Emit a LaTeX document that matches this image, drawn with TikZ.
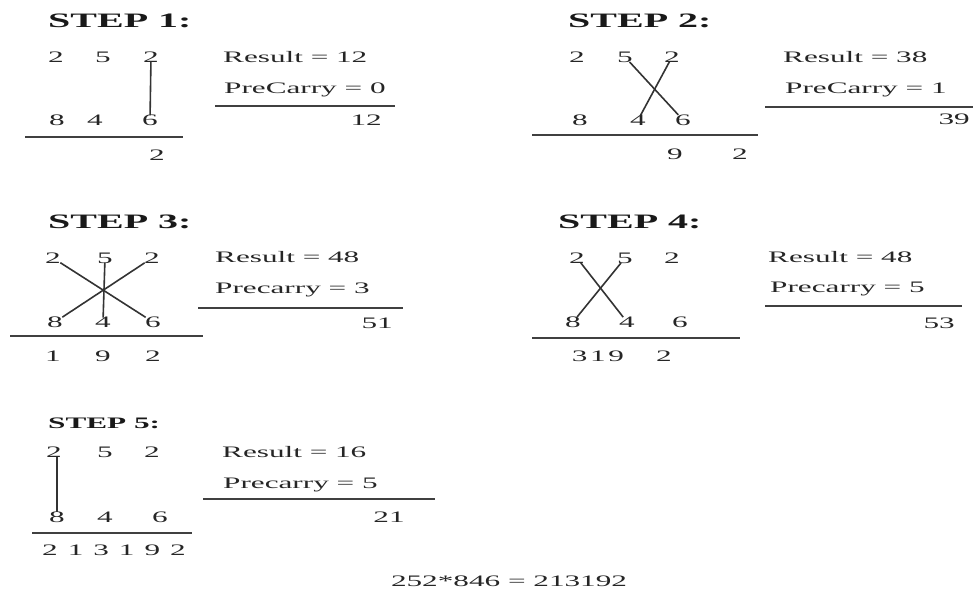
\documentclass[tikz,border=0pt]{standalone}
\usepackage{fontspec}
\setmainfont[FakeStretch=1.95]{Liberation Serif}
\usetikzlibrary{positioning}
\tikzset{
  head/.style={font=\fontsize{20.5}{22}\selectfont\bfseries,inner sep=0pt,anchor=west,text=black!90},
  minihead/.style={head,font=\fontsize{16}{18}\selectfont\bfseries},
  num/.style={font=\fontsize{16}{18}\selectfont,inner sep=1pt,text=black!85},
  calc/.style={font=\fontsize{16}{18}\selectfont,inner sep=0pt,anchor=west,text=black!85},
  link/.style={draw=black!80,line width=1.6pt,shorten <=-2pt,shorten >=-2pt},
  rule/.style={draw=black!75,line width=1.7pt}
}

\begin{document}
\begin{tikzpicture}[x=1pt,y=-1pt]
    \useasboundingbox (0,0) rectangle (973,589);
    % step 1
    \node[head] (h1) at (48,21) {STEP 1:};
    \node[num] (s1t1) at (56,57) {2};
    \node[num] (s1t2) at (103,57) {5};
    \node[num] (s1t3) at (151,57) {2};
    \node[num] (s1b1) at (57,120) {8};
    \node[num] (s1b2) at (95,120) {4};
    \node[num] (s1b3) at (150,120) {6};
    \draw[link] (s1t3) -- (s1b3);
    \draw[rule] (25,137) -- (183,137);
    \node[num] (s1r1) at (157,155) {2};
    \node[calc] (res1) at (223,57) {Result = 12};
    \node[calc] (pre1) at (224,90) {PreCarry = 0};
    \draw[rule] (215,106) -- (395,106);
    \node[num,anchor=east] (sum1) at (383,120) {12};
    % step 2
    \node[head] (h2) at (568,21) {STEP 2:};
    \node[num] (s2t1) at (577,57) {2};
    \node[num] (s2t2) at (625,57) {5};
    \node[num] (s2t3) at (672,57) {2};
    \node[num] (s2b1) at (580,120) {8};
    \node[num] (s2b2) at (638,120) {4};
    \node[num] (s2b3) at (683,120) {6};
    \draw[link] (s2t2) -- (s2b3);
    \draw[link] (s2t3) -- (s2b2);
    \draw[rule] (532,135) -- (758,135);
    \node[num] (s2r1) at (675,154) {9};
    \node[num] (s2r2) at (740,154) {2};
    \node[calc] (res2) at (783,57) {Result = 38};
    \node[calc] (pre2) at (785,90) {PreCarry = 1};
    \draw[rule] (765,107) -- (973,107);
    \node[num,anchor=east] (sum2) at (971,119) {39};
    % step 3
    \node[head] (h3) at (48,222) {STEP 3:};
    \node[num] (s3t1) at (53,258) {2};
    \node[num] (s3t2) at (105,258) {5};
    \node[num] (s3t3) at (152,258) {2};
    \node[num] (s3b1) at (55,322) {8};
    \node[num] (s3b2) at (103,322) {4};
    \node[num] (s3b3) at (153,322) {6};
    \draw[link] (s3t1) -- (s3b3);
    \draw[link] (s3t3) -- (s3b1);
    \draw[link] (s3t2) -- (s3b2);
    \draw[rule] (10,336) -- (203,336);
    \node[num] (s3r1) at (53,356) {1};
    \node[num] (s3r2) at (103,356) {9};
    \node[num] (s3r3) at (153,356) {2};
    \node[calc] (res3) at (215,257) {Result = 48};
    \node[calc] (pre3) at (215,290) {Precarry = 3};
    \draw[rule] (198,308) -- (403,308);
    \node[num,anchor=east] (sum3) at (394,323) {51};
    % step 4
    \node[head] (h4) at (558,222) {STEP 4:};
    \node[num] (s4t1) at (577,258) {2};
    \node[num] (s4t2) at (625,258) {5};
    \node[num] (s4t3) at (672,258) {2};
    \node[num] (s4b1) at (573,322) {8};
    \node[num] (s4b2) at (627,322) {4};
    \node[num] (s4b3) at (680,322) {6};
    \draw[link] (s4t1) -- (s4b2);
    \draw[link] (s4t2) -- (s4b1);
    \draw[rule] (532,338) -- (740,338);
    \node[num] (s4r1) at (598,356) {3\,1\,9};
    \node[num] (s4r2) at (664,356) {2};
    \node[calc] (res4) at (768,257) {Result = 48};
    \node[calc] (pre4) at (770,289) {Precarry = 5};
    \draw[rule] (765,306) -- (962,306);
    \node[num,anchor=east] (sum4) at (956,323) {53};
    % step 5
    \node[minihead] (h5) at (48,423) {STEP 5:};
    \node[num] (s5t1) at (54,452) {2};
    \node[num] (s5t2) at (105,452) {5};
    \node[num] (s5t3) at (152,452) {2};
    \node[num] (s5b1) at (57,517) {8};
    \node[num] (s5b2) at (105,517) {4};
    \node[num] (s5b3) at (160,517) {6};
    \draw[link] (s5t1.south -| s5b1) -- (s5b1.north);
    \draw[rule] (32,533) -- (192,533);
    \node[num,anchor=west] (s5r) at (41,550) {\spaceskip=10pt 2 1 3 1 9 2};
    \node[calc] (res5) at (222,452) {Result = 16};
    \node[calc] (pre5) at (223,485) {Precarry = 5};
    \draw[rule] (203,499) -- (435,499);
    \node[num] (sum5) at (389,517) {21};
    % final product
    \node[num] (prod) at (509,581) {252*846 = 213192};
\end{tikzpicture}
\end{document}
